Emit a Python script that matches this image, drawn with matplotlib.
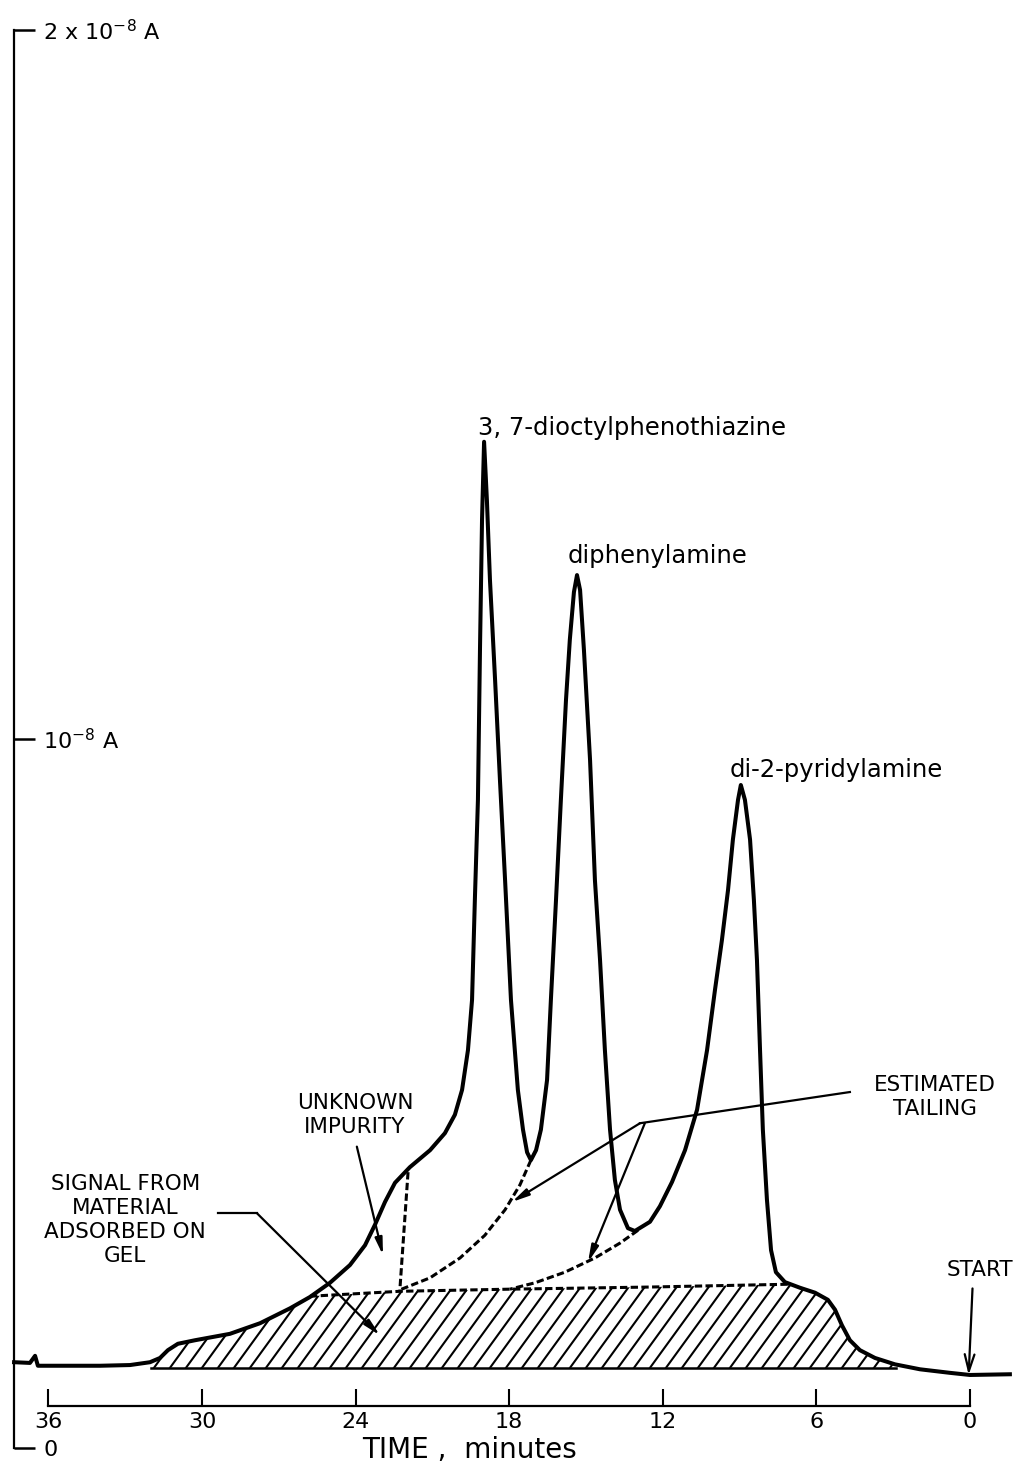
import matplotlib
matplotlib.use('Agg')
import matplotlib.pyplot as plt
import numpy as np

# detector trace: time in minutes, signal in units of 1e-8 A
time_min = [37.34, 36.72, 36.52, 36.41, 35.55, 33.98, 32.81, 32.03, 31.64, 31.33,
            30.94, 30.27, 28.91, 27.73, 26.56, 25.78, 25.00, 24.22, 23.63, 23.24,
            22.85, 22.46, 21.88, 21.09, 20.51, 20.12, 19.84, 19.61, 19.45, 19.34,
            19.22, 19.14, 19.06, 18.98, 18.87, 18.75, 18.55, 18.36, 18.16, 17.93,
            17.66, 17.46, 17.30, 17.15, 16.95, 16.76, 16.52, 16.37, 16.17, 15.98,
            15.78, 15.63, 15.47, 15.35, 15.23, 15.08, 14.84, 14.65, 14.45, 14.26,
            14.06, 13.87, 13.67, 13.36, 13.09, 12.77, 12.50, 12.11, 11.64, 11.13,
            10.66, 10.27, 9.96, 9.69, 9.45, 9.26, 9.06, 8.95, 8.79, 8.59,
            8.44, 8.32, 8.20, 8.09, 7.93, 7.77, 7.58, 7.23, 6.64, 6.05,
            5.55, 5.27, 5.00, 4.69, 4.30, 3.71, 2.93, 1.95, 0.78, 0.00, -1.56]
signal = [0.121, 0.120, 0.130, 0.116, 0.116, 0.116, 0.117, 0.121, 0.127, 0.138,
          0.147, 0.152, 0.161, 0.176, 0.197, 0.213, 0.233, 0.258, 0.286, 0.315,
          0.347, 0.374, 0.396, 0.420, 0.444, 0.470, 0.505, 0.561, 0.632, 0.773,
          0.914, 1.126, 1.309, 1.419, 1.337, 1.224, 1.083, 0.942, 0.801, 0.632,
          0.505, 0.449, 0.417, 0.406, 0.420, 0.449, 0.519, 0.632, 0.773, 0.914,
          1.055, 1.140, 1.207, 1.231, 1.210, 1.126, 0.970, 0.801, 0.688, 0.561,
          0.449, 0.378, 0.336, 0.310, 0.306, 0.313, 0.319, 0.341, 0.375, 0.420,
          0.477, 0.561, 0.646, 0.716, 0.787, 0.858, 0.914, 0.935, 0.914, 0.858,
          0.773, 0.688, 0.561, 0.449, 0.350, 0.279, 0.248, 0.234, 0.226, 0.219,
          0.209, 0.195, 0.173, 0.152, 0.138, 0.127, 0.118, 0.111, 0.106, 0.103, 0.104]

# estimated background under the peaks (dashed)
base_t = [25.78, 22.27, 17.97, 12.50, 7.03]
base_v = [0.214, 0.221, 0.224, 0.227, 0.231]
# estimated tailing of the first two peaks (dashed)
tail1_t = [17.15, 17.58, 18.16, 18.95, 19.92, 21.09, 22.27]
tail1_v = [0.406, 0.371, 0.336, 0.300, 0.268, 0.240, 0.223]
tail2_t = [12.97, 13.67, 14.65, 15.82, 16.99, 17.97]
tail2_v = [0.307, 0.289, 0.268, 0.248, 0.233, 0.224]
# unknown impurity cut (dashed)
imp_t = [21.95, 22.27]
imp_v = [0.389, 0.223]
zero_level = 0.113
gel_start, gel_end = 32.0, 2.9

x_ticks = [36, 30, 24, 18, 12, 6, 0]
y_ticks = [0, 1, 2]
y_labels = ['0', '10$^{-8}$ A', '2 x 10$^{-8}$ A']

fig = plt.figure(figsize=(10.15, 14.69), dpi=100)
ax = fig.add_axes([0, 0, 1, 1])
ax.set_xlim(37.89, -1.76)
ax.set_ylim(-0.0296, 2.042)

# axes
for s in ['top', 'right']:
    ax.spines[s].set_visible(False)
ax.spines['left'].set_position(('data', 37.34))
ax.spines['left'].set_bounds(0, 2)
ax.spines['bottom'].set_position(('data', 0.059))
ax.spines['bottom'].set_bounds(0, 36)
for s in ['left', 'bottom']:
    ax.spines[s].set_linewidth(1.6)
ax.set_xticks(x_ticks)
ax.set_xticklabels([str(v) for v in x_ticks])
ax.tick_params(axis='x', direction='in', length=12, width=1.5, pad=4, labelsize=16)
ax.set_yticks(y_ticks)
ax.set_yticklabels(y_labels)
ax.tick_params(axis='y', direction='in', length=15, width=1.8, pad=-21, labelsize=16)
for lbl in ax.get_yticklabels():
    lbl.set_horizontalalignment('left')
ax.set_xlabel('TIME ,  minutes', fontsize=20)
ax.xaxis.set_label_coords(469 / 1015, 1 - 1436 / 1469)

# hatched area (material adsorbed on gel)
t_inc = np.array(time_min[::-1])
v_inc = np.array(signal[::-1])
tt = np.linspace(gel_end, gel_start, 800)
upper = np.interp(tt, t_inc, v_inc)
dash_i = np.interp(tt, base_t[::-1], base_v[::-1])
inside = (tt >= base_t[-1]) & (tt <= base_t[0])
upper = np.where(inside, np.minimum(upper, dash_i), upper)
upper = np.maximum(upper, zero_level)

poly_t = np.concatenate([tt, tt[::-1]])
poly_v = np.concatenate([upper, np.full_like(tt, zero_level)])
patch, = ax.fill(poly_t, poly_v, facecolor='none', edgecolor='none')
pts = ax.transData.transform(np.column_stack([poly_t, poly_v]))
x0, x1 = pts[:, 0].min(), pts[:, 0].max()
y0, y1 = pts[:, 1].min(), pts[:, 1].max()
dx = (y1 - y0) / np.tan(np.radians(54))
inv = ax.transData.inverted()
for xs in np.arange(x0 - dx, x1 + 16, 16):
    seg = inv.transform([[xs, y0], [xs + dx, y1]])
    ln, = ax.plot(seg[:, 0], seg[:, 1], color='black', lw=1.5)
    ln.set_clip_path(patch)
ax.plot([gel_start, gel_end], [zero_level, zero_level], color='black', lw=1.8)

# dashed constructions
dash = (0, (2.4, 1.1))
for tx, vy in [(base_t, base_v), (tail1_t, tail1_v), (tail2_t, tail2_v), (imp_t, imp_v)]:
    ax.plot(tx, vy, color='black', lw=2.2, linestyle=dash)

# main trace
ax.plot(time_min, signal, color='black', lw=2.9, solid_joinstyle='round')

# peak names
ax.text(19.22, 1.439, '3, 7-dioctylphenothiazine', fontsize=17.5, va='center', ha='left')
ax.text(15.70, 1.258, 'diphenylamine', fontsize=17.5, va='center', ha='left')
ax.text(9.375, 0.956, 'di-2-pyridylamine', fontsize=17.5, va='center', ha='left')

# notes with leaders
arrow_kw = dict(arrowstyle='-|>,head_length=1.0,head_width=0.22',
                color='black', lw=1.6, shrinkA=0, shrinkB=0)
ax.text(24.02, 0.470, 'UNKNOWN\nIMPURITY', fontsize=15.5, ha='center', va='center',
        linespacing=1.25)
ax.annotate('', xy=(22.93, 0.272), xytext=(23.95, 0.425), arrowprops=arrow_kw)

ax.text(33.0, 0.322, 'SIGNAL FROM\nMATERIAL\nADSORBED ON\nGEL', fontsize=15.5,
        ha='center', va='center', linespacing=1.25)
ax.plot([29.38, 27.85], [0.331, 0.331], color='black', lw=1.6)
ax.annotate('', xy=(23.05, 0.159), xytext=(27.85, 0.331), arrowprops=arrow_kw)

ax.text(1.37, 0.495, 'ESTIMATED\nTAILING', fontsize=15.5, ha='center', va='center',
        linespacing=1.25)
ax.plot([4.69, 12.89], [0.502, 0.458], color='black', lw=1.6)
ax.annotate('', xy=(17.89, 0.347), xytext=(12.89, 0.458), arrowprops=arrow_kw)
ax.annotate('', xy=(14.92, 0.262), xytext=(12.70, 0.458), arrowprops=arrow_kw)

ax.text(-0.39, 0.251, 'START', fontsize=15.5, ha='center', va='center')
ax.annotate('', xy=(0.05, 0.103), xytext=(-0.1, 0.225),
            arrowprops=dict(arrowstyle='->,head_length=1.2,head_width=0.35',
                            color='black', lw=1.6, shrinkA=0, shrinkB=0))

fig.savefig('out.png', dpi=100)
